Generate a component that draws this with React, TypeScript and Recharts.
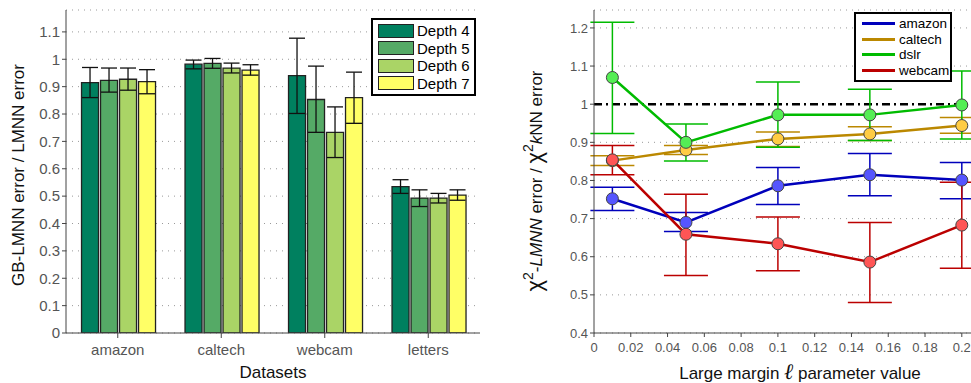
import React from 'react';
import {
  BarChart,
  Bar,
  LineChart,
  Line,
  XAxis,
  YAxis,
  CartesianGrid,
  ErrorBar,
  ReferenceLine,
} from 'recharts';

// left panel: GB-LMNN vs LMNN per dataset and tree depth
const datasets = ['amazon', 'caltech', 'webcam', 'letters'];
const depthNames = ['Depth 4', 'Depth 5', 'Depth 6', 'Depth 7'];
const depthColors = ['#00805f', '#55aa66', '#aad466', '#ffff66'];

const depth4 = [0.915, 0.982, 0.94, 0.535];
const depth4Low = [0.86, 0.965, 0.802, 0.51];
const depth4High = [0.97, 0.997, 1.077, 0.56];
const depth5 = [0.923, 0.985, 0.853, 0.493];
const depth5Low = [0.88, 0.967, 0.733, 0.462];
const depth5High = [0.968, 1.003, 0.975, 0.523];
const depth6 = [0.927, 0.968, 0.733, 0.493];
const depth6Low = [0.887, 0.95, 0.641, 0.475];
const depth6High = [0.968, 0.986, 0.826, 0.51];
const depth7 = [0.918, 0.96, 0.86, 0.504];
const depth7Low = [0.874, 0.942, 0.766, 0.485];
const depth7High = [0.962, 0.98, 0.953, 0.523];

const leftTicks = [0, 0.1, 0.2, 0.3, 0.4, 0.5, 0.6, 0.7, 0.8, 0.9, 1, 1.1];

// right panel: chi2-LMNN vs chi2 kNN over the margin parameter
const margins = [0.01, 0.05, 0.1, 0.15, 0.2];
const seriesNames = ['amazon', 'caltech', 'dslr', 'webcam'];
const lineColors = ['#0000bb', '#bb8800', '#00bb00', '#bb0000'];
const dotColors = ['#5555ff', '#ffcc44', '#55ee55', '#ff5555'];

const amazon = [0.752, 0.69, 0.786, 0.815, 0.801];
const amazonLow = [0.721, 0.666, 0.737, 0.76, 0.752];
const amazonHigh = [0.782, 0.716, 0.834, 0.871, 0.847];
const caltech = [0.852, 0.88, 0.909, 0.922, 0.944];
const caltechLow = [0.839, 0.868, 0.889, 0.905, 0.924];
const caltechHigh = [0.865, 0.892, 0.927, 0.941, 0.965];
const dslr = [1.07, 0.9, 0.972, 0.972, 0.998];
const dslrLow = [0.923, 0.851, 0.887, 0.905, 0.909];
const dslrHigh = [1.215, 0.948, 1.058, 1.039, 1.087];
const webcam = [0.854, 0.659, 0.634, 0.586, 0.683];
const webcamLow = [0.815, 0.551, 0.563, 0.48, 0.57];
const webcamHigh = [0.892, 0.764, 0.704, 0.69, 0.795];

const rightXTicks = [0, 0.02, 0.04, 0.06, 0.08, 0.1, 0.12, 0.14, 0.16, 0.18, 0.2];
const rightYTicks = [0.4, 0.5, 0.6, 0.7, 0.8, 0.9, 1, 1.1, 1.2];

const FONT = '"Liberation Sans", Arial, Helvetica, sans-serif';

const depthVals = [depth4, depth5, depth6, depth7];
const depthLows = [depth4Low, depth5Low, depth6Low, depth7Low];
const depthHighs = [depth4High, depth5High, depth6High, depth7High];

const barData = datasets.map((name, i) => {
  const row: any = { name };
  depthVals.forEach((vals, d) => {
    row['d' + d] = vals[i];
    row['e' + d] = [vals[i] - depthLows[d][i], depthHighs[d][i] - vals[i]];
  });
  return row;
});

const lineVals = [amazon, caltech, dslr, webcam];
const lineLows = [amazonLow, caltechLow, dslrLow, webcamLow];
const lineHighs = [amazonHigh, caltechHigh, dslrHigh, webcamHigh];

const lineData = margins.map((x, i) => {
  const row: any = { x };
  lineVals.forEach((vals, s) => {
    row['s' + s] = vals[i];
    row['err' + s] = [vals[i] - lineLows[s][i], lineHighs[s][i] - vals[i]];
  });
  return row;
});

const fmt = (v: number) => String(Math.round(v * 100) / 100);

const BarLegend = () => (
  <div
    style={{
      position: 'absolute',
      left: 371,
      top: 18,
      width: 96,
      border: '2px solid #000',
      background: '#fff',
      padding: '2px 0 2px 5px',
      fontFamily: FONT,
      fontSize: 15,
      whiteSpace: 'nowrap',
    }}
  >
    {depthNames.map((n, i) => (
      <div key={n} style={{ display: 'flex', alignItems: 'center', height: 17.5 }}>
        <div
          style={{
            width: 34,
            height: 12,
            background: depthColors[i],
            border: '1px solid #222',
            marginRight: 3,
          }}
        />
        <span>{n}</span>
      </div>
    ))}
  </div>
);

const LineLegend = () => (
  <div
    style={{
      position: 'absolute',
      left: 364,
      top: 12,
      width: 88,
      border: '2px solid #000',
      background: '#fff',
      padding: '2px 0 2px 6px',
      fontFamily: FONT,
      fontSize: 13.5,
      whiteSpace: 'nowrap',
    }}
  >
    {seriesNames.map((n, i) => (
      <div key={n} style={{ display: 'flex', alignItems: 'center', height: 15.5 }}>
        <div
          style={{ width: 33, height: 3, background: lineColors[i], marginRight: 4 }}
        />
        <span>{n}</span>
      </div>
    ))}
  </div>
);

const App = () => {
  return (
    <div
      style={{
        position: 'absolute',
        left: 0,
        top: 0,
        width: 971,
        height: 383,
        display: 'flex',
        background: '#fff',
        fontFamily: FONT,
      }}
    >
      <div style={{ position: 'relative', width: 490, height: 383 }}>
        <BarChart
          width={490}
          height={383}
          data={barData}
          margin={{ top: 10, right: 10, left: 0, bottom: 0 }}
          barCategoryGap="15%"
          barGap={2}
        >
          <CartesianGrid
            vertical={false}
            stroke="#999"
            strokeDasharray="1 5"
          />
          <XAxis
            dataKey="name"
            height={50}
            tick={{ fill: '#555', fontSize: 15, fontFamily: FONT }}
            tickSize={5}
            tickMargin={6}
            stroke="#444"
          />
          <YAxis
            width={66}
            domain={[0, 1.18]}
            ticks={leftTicks}
            interval={0}
            tickFormatter={fmt}
            tick={{ fill: '#555', fontSize: 15, fontFamily: FONT }}
            tickSize={4}
            stroke="#444"
            allowDataOverflow
          />
          {depthNames.map((n, d) => (
            <Bar
              key={n}
              name={n}
              dataKey={'d' + d}
              fill={depthColors[d]}
              stroke="#222"
              strokeWidth={1.3}
              isAnimationActive={false}
            >
              <ErrorBar dataKey={'e' + d} width={8} stroke="#111" strokeWidth={1.3} />
            </Bar>
          ))}
        </BarChart>
        <BarLegend />
        <svg
          width={490}
          height={383}
          style={{ position: 'absolute', left: 0, top: 0, pointerEvents: 'none' }}
        >
          <text
            x={24}
            y={175}
            transform="rotate(-90 24 175)"
            textAnchor="middle"
            fontSize={17}
            fontFamily={FONT}
            fill="#111"
          >
            GB-LMNN error / LMNN error
          </text>
          <text x={273} y={378} textAnchor="middle" fontSize={17} fontFamily={FONT} fill="#111">
            Datasets
          </text>
        </svg>
      </div>
      <div style={{ position: 'relative', width: 481, height: 383 }}>
        <LineChart
          width={481}
          height={383}
          data={lineData}
          margin={{ top: 10, right: 0, left: 0, bottom: 0 }}
        >
          <CartesianGrid
            vertical={false}
            stroke="#999"
            strokeDasharray="1 5"
          />
          <XAxis
            dataKey="x"
            type="number"
            domain={[0, 0.205]}
            ticks={rightXTicks}
            interval={0}
            tickFormatter={fmt}
            height={50}
            tick={{ fill: '#555', fontSize: 13, fontFamily: FONT }}
            tickSize={4}
            tickMargin={6}
            stroke="#444"
            allowDataOverflow
          />
          <YAxis
            width={104}
            domain={[0.4, 1.247]}
            ticks={rightYTicks}
            interval={0}
            tickFormatter={fmt}
            tick={{ fill: '#555', fontSize: 13, fontFamily: FONT }}
            tickSize={4}
            stroke="#444"
            allowDataOverflow
          />
          <ReferenceLine
            y={1}
            stroke="#000"
            strokeWidth={2.5}
            strokeDasharray="8 4 2 4"
          />
          {seriesNames.map((n, s) => (
            <Line
              key={n}
              name={n}
              dataKey={'s' + s}
              stroke={lineColors[s]}
              strokeWidth={2.5}
              dot={{ r: 6, fill: dotColors[s], stroke: '#444', strokeWidth: 1 }}
              isAnimationActive={false}
            >
              <ErrorBar
                dataKey={'err' + s}
                direction="y"
                width={22}
                stroke={lineColors[s]}
                strokeWidth={1.5}
              />
            </Line>
          ))}
        </LineChart>
        <LineLegend />
        <svg
          width={481}
          height={383}
          style={{ position: 'absolute', left: 0, top: 0, pointerEvents: 'none' }}
        >
          <text
            x={52}
            y={181}
            transform="rotate(-90 52 181)"
            textAnchor="middle"
            fontSize={17}
            fontFamily={FONT}
            fill="#111"
          >
            <tspan fontSize={22}>χ</tspan>
            <tspan dy={-9} fontSize={14}>2</tspan>
            <tspan dy={9}>-</tspan>
            <tspan fontStyle="italic">LMNN</tspan>
            <tspan> error /  </tspan>
            <tspan fontSize={22}>χ</tspan>
            <tspan dy={-9} fontSize={14}>2</tspan>
            <tspan dy={9} fontStyle="italic">k</tspan>
            <tspan>NN error</tspan>
          </text>
          <text x={310} y={379} textAnchor="middle" fontSize={17} fontFamily={FONT} fill="#111">
            <tspan>Large margin  </tspan>
            <tspan fontStyle="italic" fontSize={22} fontFamily="DejaVu Serif">ℓ</tspan>
            <tspan>  parameter value</tspan>
          </text>
        </svg>
      </div>
    </div>
  );
};

export default App;
